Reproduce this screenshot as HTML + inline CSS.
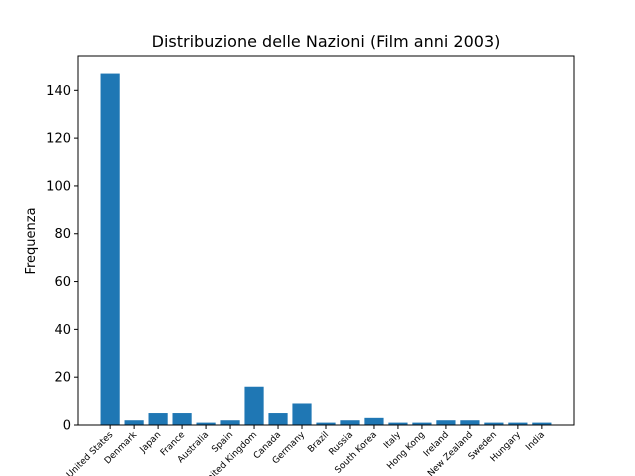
<!DOCTYPE html>
<html><head><meta charset="utf-8"><style>
body{margin:0;background:#fff;}
svg{display:block;font-family:"DejaVu Sans","Liberation Sans",sans-serif;}
</style></head><body>
<svg id="c" width="635" height="476">
<text x="326" y="47" text-anchor="middle" font-size="16">Distribuzione delle Nazioni (Film anni 2003)</text>
<text transform="translate(35,241) rotate(-90)" text-anchor="middle" font-size="13">Frequenza</text>
<g id="bars"></g><g id="yt"></g><g id="xt"></g>
<rect x="78" y="56" width="496" height="369" fill="none" stroke="#000" stroke-width="1"/>
</svg>
<script>
const categories=["United States","Denmark","Japan","France","Australia","Spain","United Kingdom","Canada","Germany","Brazil","Russia","South Korea","Italy","Hong Kong","Ireland","New Zealand","Sweden","Hungary","India"];
const values=[147,2,5,5,1,2,16,5,9,1,2,3,1,1,2,2,1,1,1];
const yTicks=[0,20,40,60,80,100,120,140];
const L=78,R=574,T=56,B=425;
const n=categories.length;
const ymax=Math.max(...values)*1.05;
const xmin=-0.4-0.05*(n-1+0.8), xmax=n-1+0.4+0.05*(n-1+0.8);
const xs=v=>L+(v-xmin)/(xmax-xmin)*(R-L);
const ys=v=>B-v/ymax*(B-T);
const NS="http://www.w3.org/2000/svg";
function mk(t,a,p){const e=document.createElementNS(NS,t);for(const k in a)e.setAttribute(k,a[k]);p.appendChild(e);return e;}
const gb=document.getElementById('bars'),gy=document.getElementById('yt'),gx=document.getElementById('xt');
values.forEach((v,i)=>{
 const r=mk('rect',{x:xs(i-0.4),y:ys(v),width:xs(i+0.4)-xs(i-0.4),height:B-ys(v),fill:'#1f77b4'},gb);
 
 
 const x=xs(i);
 const tk=mk('line',{x1:x,x2:x,y1:B,y2:B+4,stroke:'#000'},gx);
 
 
 const t=mk('text',{transform:`translate(${x+3},${B+10}) rotate(-45)`,'text-anchor':'end','font-size':'9'},gx);
 t.textContent=categories[i];
 
 
});
yTicks.forEach(v=>{
 const y=ys(v);
 const tk=mk('line',{x1:L-4,x2:L,y1:y,y2:y,stroke:'#000'},gy);
 
 
 const t=mk('text',{x:L-7,y:y+4.5,'text-anchor':'end','font-size':'13'},gy);
 t.textContent=v;
 
 
});
</script>
</body></html>
